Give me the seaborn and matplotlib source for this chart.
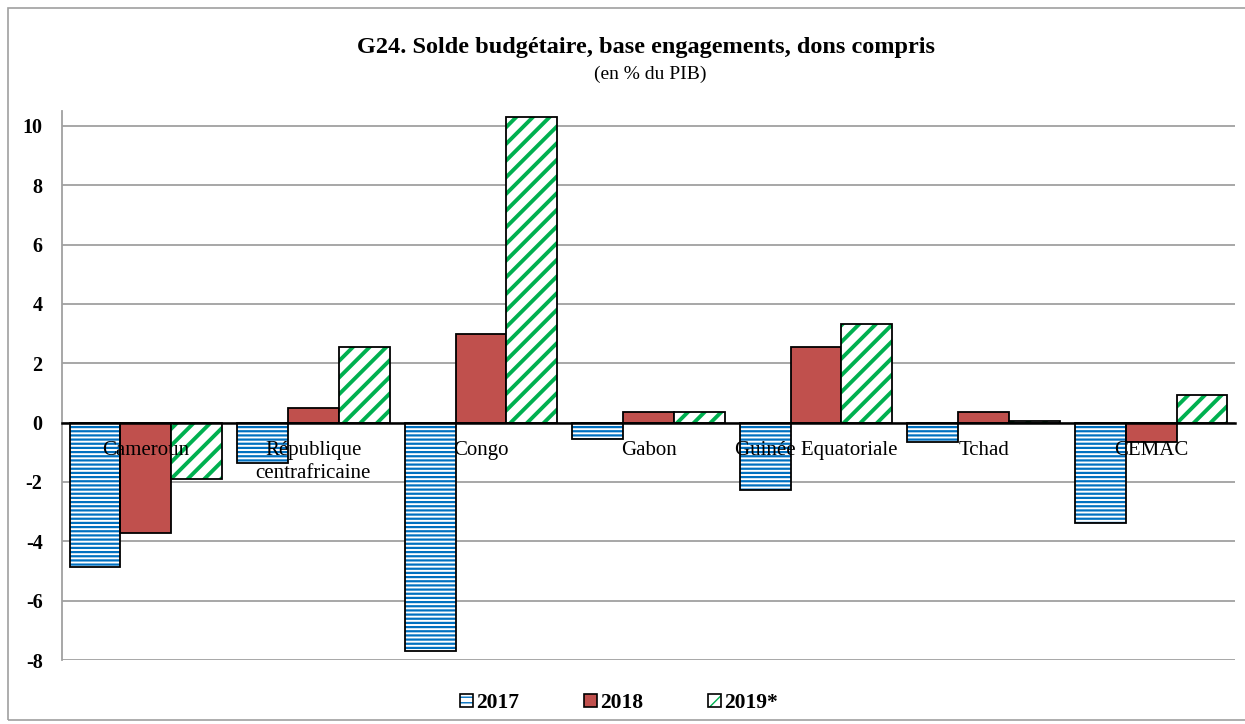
import numpy as np
import pandas as pd
import matplotlib
matplotlib.use("Agg")
import matplotlib.pyplot as plt
from matplotlib.patches import Rectangle, Patch
import seaborn as sns

# values (% of GDP)
countries = ["Cameroun", "République\ncentrafricaine", "Congo", "Gabon",
             "Guinée Equatoriale", "Tchad", "CEMAC"]
years = ["2017", "2018", "2019*"]
s2017 = [-4.85, -1.35, -7.68, -0.55, -2.28, -0.67, -3.39]
s2018 = [-3.72, 0.50, 3.00, 0.37, 2.55, 0.37, -0.64]
s2019 = [-1.90, 2.55, 10.30, 0.37, 3.33, 0.04, 0.94]
yticks = [-8, -6, -4, -2, 0, 2, 4, 6, 8, 10]

df = pd.DataFrame({
    "pays": countries * 3,
    "annee": [y for y in years for _ in countries],
    "valeur": s2017 + s2018 + s2019,
})

sns.set_style("white")
plt.rcParams["font.family"] = ["Liberation Serif", "DejaVu Serif"]
plt.rcParams["text.color"] = "black"
plt.rcParams["xtick.labelcolor"] = "black"
plt.rcParams["ytick.labelcolor"] = "black"

fig = plt.figure(figsize=(12.45, 7.24), dpi=100)
ax = fig.add_axes([62 / 1245, 1 - 660 / 724, (1235 - 62) / 1245, (660 - 111) / 724])

pal = {"2017": "white", "2018": "#C0504D", "2019*": "white"}
sns.barplot(data=df, x="pays", y="valeur", hue="annee", order=countries,
            hue_order=years, palette=pal, saturation=1, width=0.91, gap=0,
            legend=False, ax=ax)

styles = [("----", "#0070C0", 1.6), (None, None, 0), ("//", "#00B050", 2.8)]
for cont, (hatch, hcol, hlw) in zip(ax.containers, styles):
    for bar in cont:
        if hatch:
            bar.set_facecolor("white")
            bar.set_hatch(hatch)
            bar.set_edgecolor(hcol)
            bar.set_linewidth(0)
            if hasattr(bar, "set_hatch_linewidth"):
                bar.set_hatch_linewidth(hlw)
            # black outline on top
            ax.add_patch(Rectangle(bar.get_xy(), bar.get_width(), bar.get_height(),
                                   fill=False, edgecolor="black", linewidth=1.3, zorder=3))
        else:
            bar.set_edgecolor("black")
            bar.set_linewidth(1.3)
        bar.set_zorder(2)

ax.set_ylim(-8, 10.5)
ax.set_xlim(-0.5, len(countries) - 0.5)
ax.set_yticks(yticks)
ax.set_yticklabels([str(t) for t in yticks], fontweight="bold", fontsize=14.5, color="black")
ax.yaxis.grid(True, color="#A0A0A0", linewidth=1.3)
ax.set_axisbelow(True)
ax.xaxis.set_zorder(5)
ax.set_xlabel("")
ax.set_ylabel("")

for s in ["top", "right"]:
    ax.spines[s].set_visible(False)
ax.spines["left"].set_color("#A0A0A0")
ax.spines["left"].set_linewidth(1.3)
ax.spines["bottom"].set_position(("data", 0))
ax.spines["bottom"].set_color("black")
ax.spines["bottom"].set_linewidth(1.8)
ax.spines["bottom"].set_zorder(4)

ax.tick_params(axis="y", direction="out", length=6, color="#A0A0A0", width=1.3, pad=8)
ax.set_xticks(np.arange(len(countries)))
ax.set_xticklabels(countries, fontsize=15, linespacing=1.3, color="black")
ax.set_xticks(np.arange(len(countries) + 1) - 0.5, minor=True)
ax.tick_params(axis="x", which="major", length=0, pad=13)
ax.tick_params(axis="x", which="minor", direction="out", length=5, width=1.8, color="black")
for lab in ax.get_xticklabels():
    lab.set_verticalalignment("top")

fig.text(646 / 1245, 1 - 48 / 724, "G24. Solde budgétaire, base engagements, dons compris",
         ha="center", va="center", fontsize=17.5, fontweight="bold", color="black")
fig.text(650 / 1245, 1 - 74 / 724, "(en % du PIB)", ha="center", va="center", fontsize=14,
         color="black")

# legend
h17 = (Patch(facecolor="white", edgecolor="#0070C0", hatch="---", linewidth=0),
       Patch(facecolor="none", edgecolor="black", linewidth=1.2))
h18 = Patch(facecolor="#C0504D", edgecolor="black", linewidth=1.2)
h19 = (Patch(facecolor="white", edgecolor="#00B050", hatch="//", linewidth=0),
       Patch(facecolor="none", edgecolor="black", linewidth=1.2))
fig.legend([h17, h18, h19], years, loc="center", bbox_to_anchor=(619 / 1245, 1 - 703 / 724),
           ncol=3, frameon=False, handlelength=0.6, handleheight=0.6, handletextpad=0.15,
           columnspacing=3.0, labelcolor="black", prop={"weight": "bold", "size": 15.5})

# chart area border
fig.patches.append(Rectangle((8 / 1245, 4 / 724), 1.2, 1 - 12 / 724, transform=fig.transFigure,
                             fill=False, edgecolor="#A0A0A0", linewidth=1.2))

fig.savefig("out.png", dpi=100)
